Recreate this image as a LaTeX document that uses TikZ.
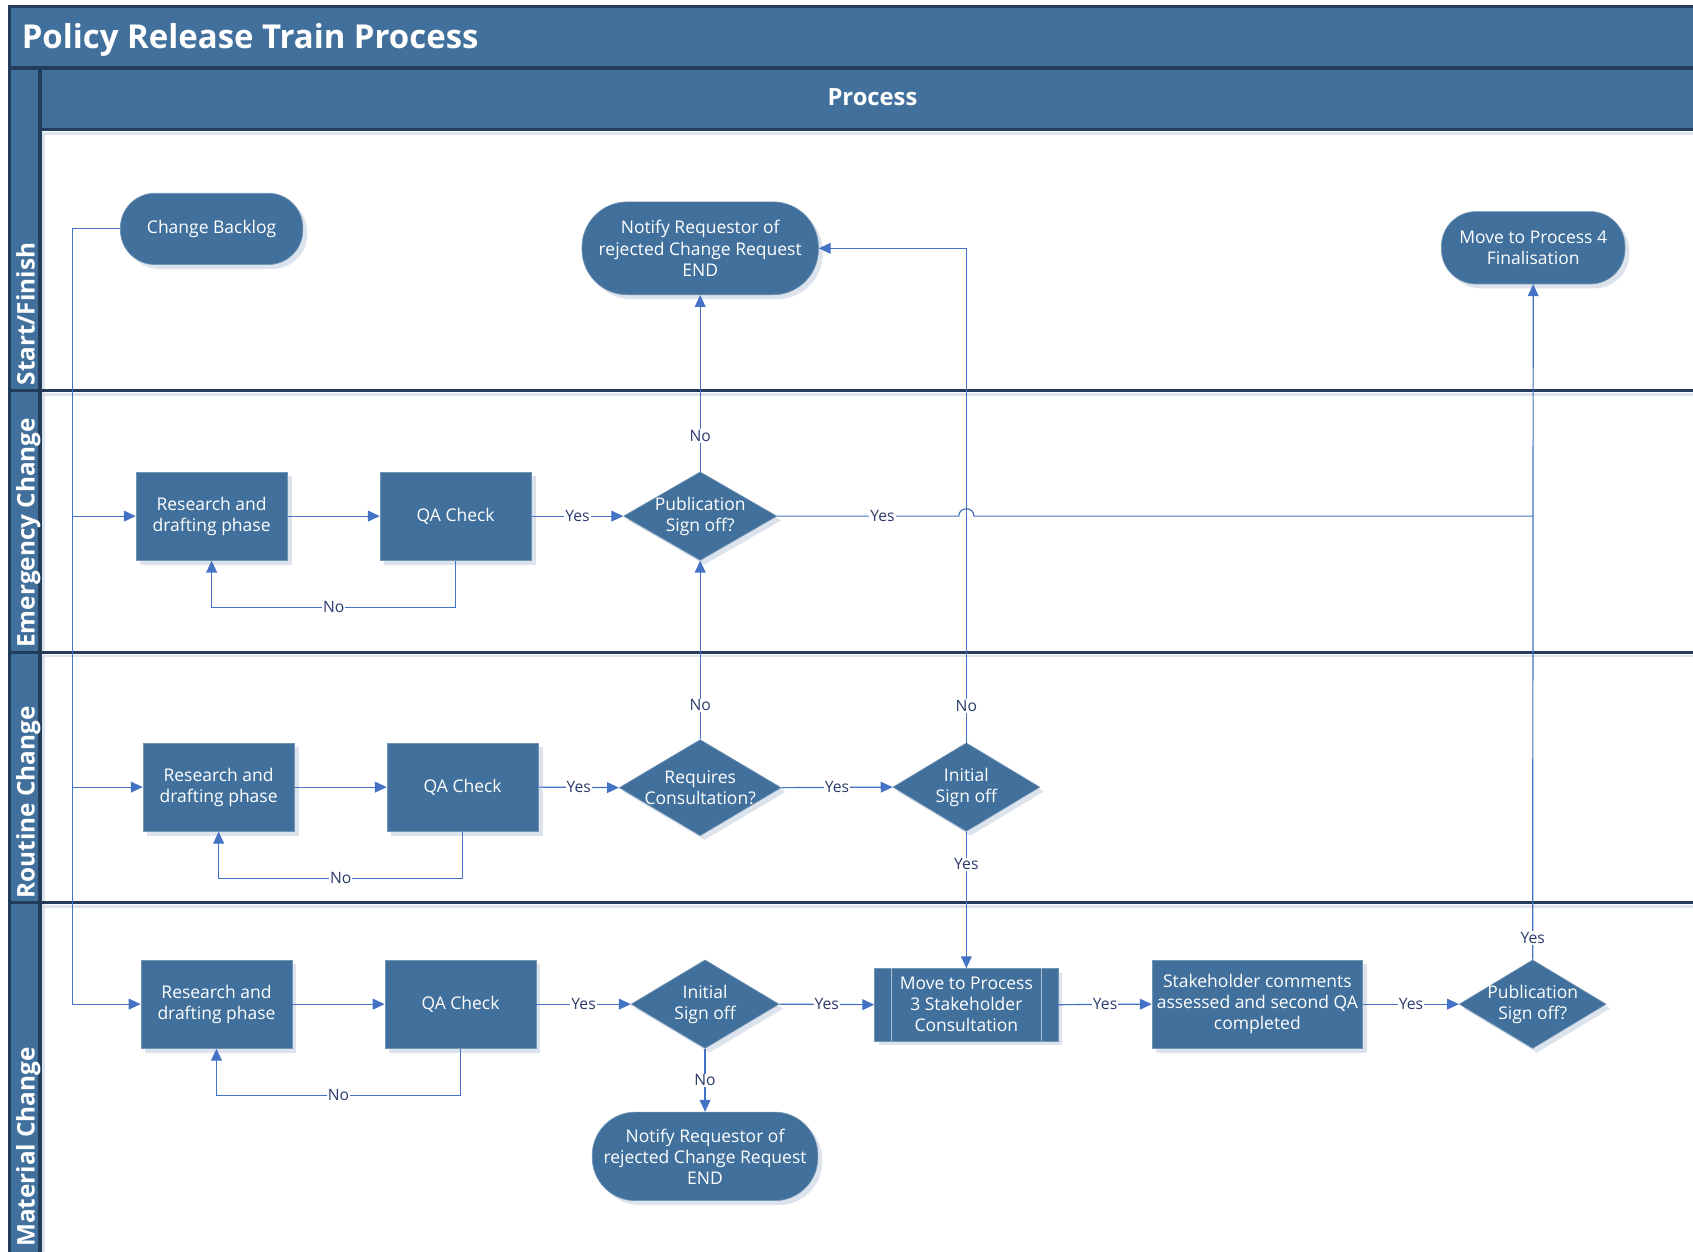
\documentclass[tikz,border=0pt]{standalone}
\usepackage{fontspec}
\setmainfont{Open Sans}
\usetikzlibrary{shapes.geometric,arrows.meta,shadows,calc}
\definecolor{nodeblue}{HTML}{41709C}
\definecolor{framedark}{HTML}{223C5A}
\definecolor{linkblue}{HTML}{4472C4}
\definecolor{labelblue}{HTML}{2B3B6B}
\definecolor{shadowc}{HTML}{DCE3EC}
\begin{document}
\begin{tikzpicture}[x=1pt,y=-1pt,
  base/.style={fill=nodeblue, draw=nodeblue!75!white, line width=0.6pt, text=white, align=center,
    font=\fontsize{16.2}{19.5}\selectfont, inner sep=0pt,
    drop shadow={shadow xshift=4pt, shadow yshift=-4pt, fill=shadowc, opacity=1}},
  procbox/.style={base, rectangle, minimum width=140pt, minimum height=82pt},
  term/.style={base, rectangle},
  decision/.style={base, diamond, aspect=1.7, inner sep=-15pt},
  predef/.style={base, rectangle},
  conn/.style={draw=linkblue, line width=1.1pt, -{Triangle[length=11pt,width=10pt]}},
  plain/.style={draw=linkblue, line width=1.1pt},
  lbl/.style={fill=white, text=labelblue, font=\fontsize{14.5}{16}\selectfont, inner sep=1pt},
  lanetxt/.style={rotate=90, anchor=base west, text=white, font=\fontsize{22.5}{26}\selectfont\bfseries, inner sep=0pt},
  frameline/.style={draw=framedark, line width=3pt},
  softline/.style={draw=shadowc, line width=2.5pt}
]
\useasboundingbox (0,0) rectangle (1568,1159);
\clip (0,0) rectangle (1568,1159);

% ---- header bands and lane column ----
\fill[white] (0,0) rectangle (1568,1159);
\fill[nodeblue] (9,6) rectangle (1600,63);
\fill[nodeblue] (9,63) rectangle (37,1200);
\fill[nodeblue] (37,63) rectangle (1600,120);
\draw[softline] (39,123.5) -- (1600,123.5);
\draw[softline] (40.5,122) -- (40.5,1200);
\foreach \yy in {362,604,836} {\draw[softline] (39,\yy+3.5) -- (1600,\yy+3.5);}
\draw[frameline] (9,1200) -- (9,6) -- (1600,6);
\draw[frameline] (9,63) -- (1600,63);
\draw[frameline] (37,120) -- (1600,120);
\draw[frameline] (37,63) -- (37,1200);
\foreach \yy in {362,604,836} {\draw[frameline] (9,\yy) -- (1600,\yy);}

\node[anchor=base west, text=white, font=\fontsize{30.5}{34}\selectfont\bfseries, inner sep=0pt] (title) at (20,45) {Policy Release Train Process};
\node[text=white, font=\fontsize{22}{26}\selectfont\bfseries, inner sep=0pt] (proc) at (808,90) {Process};
\node[lanetxt] (l1) at (32,357) {Start/Finish};
\node[lanetxt] (l2) at (32,600) {Emergency Change};
\node[lanetxt] (l3) at (32,832) {Routine Change};
\node[lanetxt] (l4) at (32,1155) {Material Change};

% ---- nodes ----
\node[term, minimum width=169pt, minimum height=66pt, rounded corners=32pt] (backlog) at (196,212) {Change Backlog};
\node[term, minimum width=219pt, minimum height=86pt, rounded corners=42pt] (notify1) at (648.5,230) {Notify Requestor of\\rejected Change Request\\END};
\node[term, minimum width=170pt, minimum height=67pt, rounded corners=32pt] (move4) at (1420,229.5) {Move to Process 4\\Finalisation};

\node[procbox] (eres) at (196,478) {Research and\\drafting phase};
\node[procbox] (eqa) at (422,478) {QA Check};
\node[decision, minimum width=142pt, minimum height=82pt] (epub) at (648.5,478) {Publication\\Sign off?};

\node[procbox] (rres) at (202.5,729) {Research and\\drafting phase};
\node[procbox] (rqa) at (428.5,729) {QA Check};
\node[decision, minimum width=150pt, minimum height=89pt] (rreq) at (648.5,729.5) {Requires\\Consultation?};
\node[decision, minimum width=136pt, minimum height=82pt] (rinit) at (895,729) {Initial\\Sign off};

\node[procbox] (mres) at (200.5,930) {Research and\\drafting phase};
\node[procbox] (mqa) at (426.5,930) {QA Check};
\node[decision, minimum width=137pt, minimum height=82pt] (minit) at (653,930) {Initial\\Sign off};
\node[predef, minimum width=170pt, minimum height=67pt] (move3) at (895,930.5) {Move to Process\\3 Stakeholder\\Consultation};
\draw[draw=nodeblue!45!white, line width=0.8pt] ([xshift=16pt]move3.north west) -- ([xshift=16pt]move3.south west);
\draw[draw=nodeblue!45!white, line width=0.8pt] ([xshift=-16pt]move3.north east) -- ([xshift=-16pt]move3.south east);
\node[procbox, minimum width=195pt] (stake) at (1164.5,930) {Stakeholder comments\\assessed and second QA\\completed};
\node[decision, minimum width=136pt, minimum height=82pt] (mpub) at (1419.5,930) {Publication\\Sign off?};
\node[term, minimum width=209pt, minimum height=82pt, rounded corners=40pt] (notify2) at (653,1071) {Notify Requestor of\\rejected Change Request\\END};

% ---- connectors ----
\coordinate (trunk) at (67,212);
\draw[conn] (backlog.west) -- (trunk) -- (trunk |- mres.west) -- (mres.west);
\draw[conn] (trunk |- eres.west) -- (eres.west);
\draw[conn] (trunk |- rres.west) -- (rres.west);

% emergency
\draw[conn] (eres.east) -- (eqa.west);
\draw[conn] (eqa.east) -- node[lbl]{Yes} (epub.west);
\draw[conn] (eqa.south) -- ++(0,43) -| node[lbl,pos=0.25]{No} (eres.south);
\draw[conn] (epub.north) -- node[lbl,pos=0.2]{No} (notify1.south);
\coordinate (hop) at (rinit.north |- epub.east);
\draw[plain] (epub.east) -- node[lbl,pos=0.58]{Yes} ([xshift=-7pt]hop)
  .. controls ([xshift=-7pt,yshift=9pt]hop) and ([xshift=7pt,yshift=9pt]hop) .. ([xshift=7pt]hop)
  -- (move4.south |- epub.east);
\draw[conn] (mpub.north) -- node[lbl,pos=0.032]{Yes} (move4.south);

% routine
\draw[conn] (rres.east) -- (rqa.west);
\draw[conn] (rqa.east) -- node[lbl]{Yes} (rreq.west);
\draw[conn] (rqa.south) -- ++(0,43) -| node[lbl,pos=0.25]{No} (rres.south);
\draw[conn] (rreq.north) -- node[lbl,pos=0.19]{No} (epub.south);
\draw[conn] (rreq.east) -- node[lbl]{Yes} (rinit.west);
\draw[conn] (rinit.north) -- node[lbl,pos=0.074]{No} (rinit.north |- notify1.east) -- (notify1.east);
\draw[conn] (rinit.south) -- node[lbl,pos=0.24]{Yes} (move3.north);

% material
\draw[conn] (mres.east) -- (mqa.west);
\draw[conn] (mqa.east) -- node[lbl]{Yes} (minit.west);
\draw[conn] (mqa.south) -- ++(0,43) -| node[lbl,pos=0.25]{No} (mres.south);
\draw[conn] (minit.east) -- node[lbl]{Yes} (move3.west);
\draw[conn] (minit.south) -- node[lbl]{No} (notify2.north);
\draw[conn] (move3.east) -- node[lbl]{Yes} (stake.west);
\draw[conn] (stake.east) -- node[lbl]{Yes} (mpub.west);
\end{tikzpicture}
\end{document}
